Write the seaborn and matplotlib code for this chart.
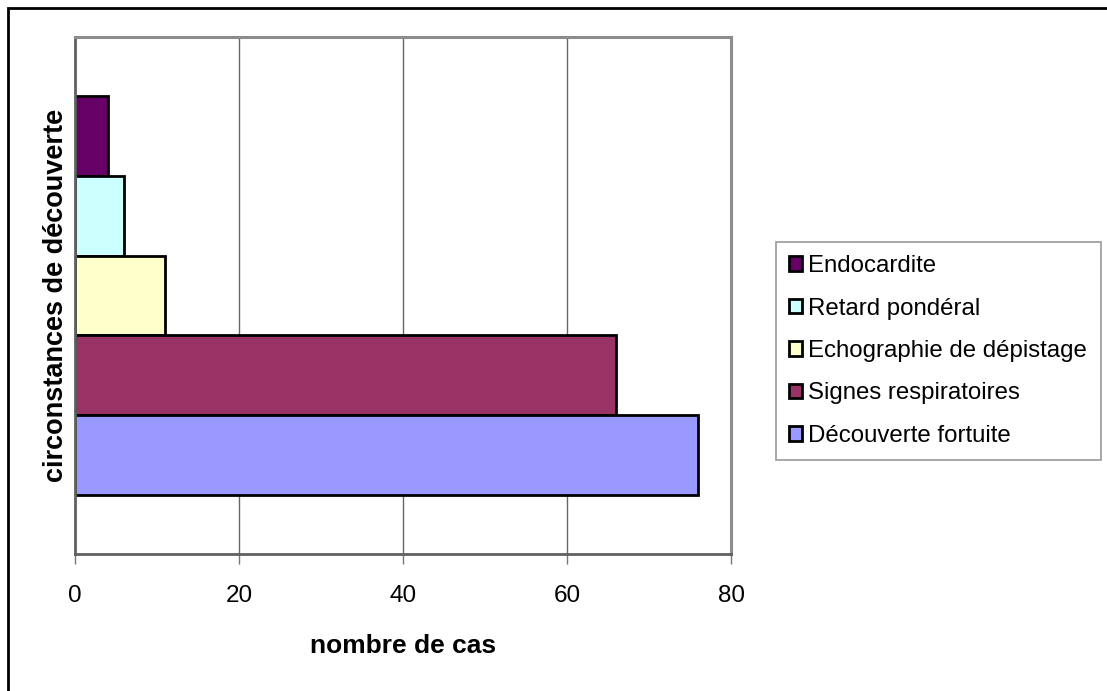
import matplotlib
matplotlib.use("Agg")
import matplotlib.pyplot as plt
from matplotlib.patches import Rectangle
import pandas as pd
import seaborn as sns

# Circonstances de découverte (ordre d'affichage de haut en bas)
circonstances = [
    "Endocardite",
    "Retard pondéral",
    "Echographie de dépistage",
    "Signes respiratoires",
    "Découverte fortuite",
]
nombre_cas = [4, 6, 11, 66, 76]
couleurs = ["#660066", "#CCFFFF", "#FFFFCC", "#993366", "#9999FF"]
graduations_x = [0, 20, 40, 60, 80]

df = pd.DataFrame({
    "groupe": [""] * len(circonstances),
    "circonstance": circonstances,
    "cas": nombre_cas,
})

sns.set_theme(style="white")
plt.rcParams["font.family"] = ["Liberation Sans", "DejaVu Sans"]
plt.rcParams["text.color"] = "black"
plt.rcParams["axes.labelcolor"] = "black"
plt.rcParams["xtick.color"] = "black"

W, H = 1107, 691
fig = plt.figure(figsize=(W / 100, H / 100), dpi=100)
fig.patch.set_facecolor("white")

ax = fig.add_axes([75 / W, 1 - 554 / H, (731 - 75) / W, (554 - 37) / H])

sns.barplot(
    data=df, x="cas", y="groupe", hue="circonstance",
    hue_order=circonstances, palette=couleurs, saturation=1,
    width=0.772, edgecolor="black", linewidth=2, orient="h", ax=ax,
)

ax.set_xlim(0, 80)
ax.set_ylim(0.5, -0.5)
ax.set_xticks(graduations_x)
ax.set_xticklabels([str(v) for v in graduations_x], fontsize=17.5)
ax.set_yticks([])
ax.tick_params(axis="x", direction="out", length=7, width=1, color="#777777",
               labelcolor="black", pad=15, bottom=True)
ax.grid(axis="x", color="#666666", linewidth=1)
ax.set_axisbelow(True)

for side in ("top", "right"):
    ax.spines[side].set_color("#8c8c8c")
    ax.spines[side].set_linewidth(2.2)
for side in ("left", "bottom"):
    ax.spines[side].set_color("#606060")
    ax.spines[side].set_linewidth(2)

ax.set_xlabel("nombre de cas", fontsize=19, fontweight="bold", labelpad=20,
              color="black")
ax.set_ylabel("circonstances de découverte", fontsize=19.5, fontweight="bold",
              labelpad=4, color="black")

handles, labels = ax.get_legend_handles_labels()
ax.get_legend().remove()
leg = fig.legend(
    handles, labels, loc="upper left",
    bbox_to_anchor=(776 / W, 1 - 242 / H), bbox_transform=fig.transFigure,
    fontsize=17.3, frameon=True, fancybox=False, borderpad=0.55,
    handlelength=0.55, handleheight=0.55, handletextpad=0.25,
    labelspacing=0.85, borderaxespad=0,
)
leg.get_frame().set_edgecolor("#808080")
leg.get_frame().set_linewidth(1.2)
for t in leg.get_texts():
    t.set_color("black")

# cadre extérieur du graphique
fig.patches.append(Rectangle((7.5 / W, -0.1), 1.2, 1.1 - 7.5 / H,
                             transform=fig.transFigure, fill=False,
                             edgecolor="black", linewidth=2))

fig.savefig("out.png", dpi=100)
